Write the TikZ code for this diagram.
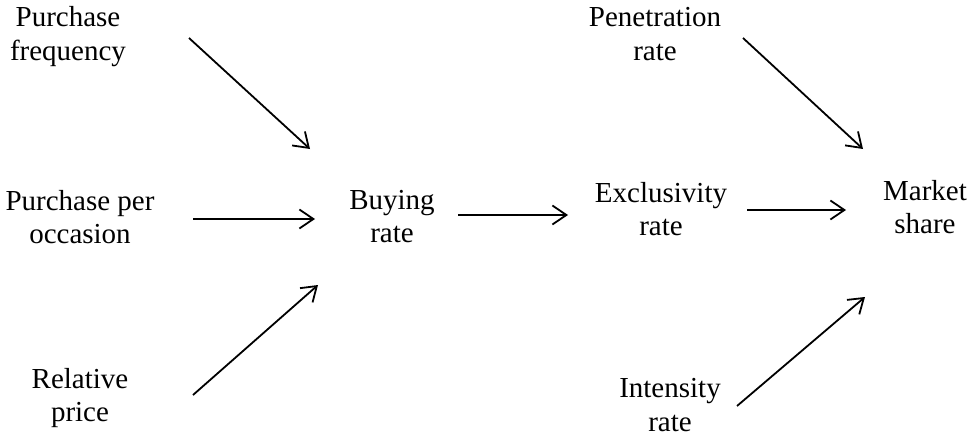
\documentclass[tikz,border=0pt]{standalone}
\usepackage{fontspec}
\setmainfont{Liberation Serif}
\usetikzlibrary{arrows.meta}
\begin{document}
\begin{tikzpicture}[x=1pt,y=-1pt,
  lbl/.style={align=center,anchor=base,font=\fontsize{29}{33.5}\selectfont,inner sep=0pt},
  flow/.style={-{Straight Barb[length=14pt,width=19pt]},line width=1.8pt}]
\useasboundingbox (0,0) rectangle (967,436);

% drivers of the buying rate (placed by the baseline of the last line)
\node[lbl] (pf)  at (68,60.5)   {Purchase\\frequency};
\node[lbl] (ppo) at (80,243.5)  {Purchase per\\occasion};
\node[lbl] (rp)  at (80,421.5)  {Relative\\price};
\node[lbl] (br)  at (392,242.5) {Buying\\rate};

% drivers of market share
\node[lbl] (er) at (661,235.5) {Exclusivity\\rate};
\node[lbl] (pr) at (655,60.5)  {Penetration\\rate};
\node[lbl] (ir) at (670,431)   {Intensity\\rate};
\node[lbl] (ms) at (925,233.5) {Market\\share};

% arrow end points
\coordinate (a1s) at (189,38);  \coordinate (a1e) at (310,149);
\coordinate (a2s) at (193,219); \coordinate (a2e) at (315,219);
\coordinate (a3s) at (193,395); \coordinate (a3e) at (318,285);
\coordinate (a4s) at (458,215); \coordinate (a4e) at (568,215);
\coordinate (a5s) at (747,210); \coordinate (a5e) at (846,210);
\coordinate (a6s) at (743,38);  \coordinate (a6e) at (863,149);
\coordinate (a7s) at (737,406); \coordinate (a7e) at (865,297);

\draw[flow] (a1s) -- (a1e);
\draw[flow] (a2s) -- (a2e);
\draw[flow] (a3s) -- (a3e);
\draw[flow] (a4s) -- (a4e);
\draw[flow] (a5s) -- (a5e);
\draw[flow] (a6s) -- (a6e);
\draw[flow] (a7s) -- (a7e);
\end{tikzpicture}
\end{document}
